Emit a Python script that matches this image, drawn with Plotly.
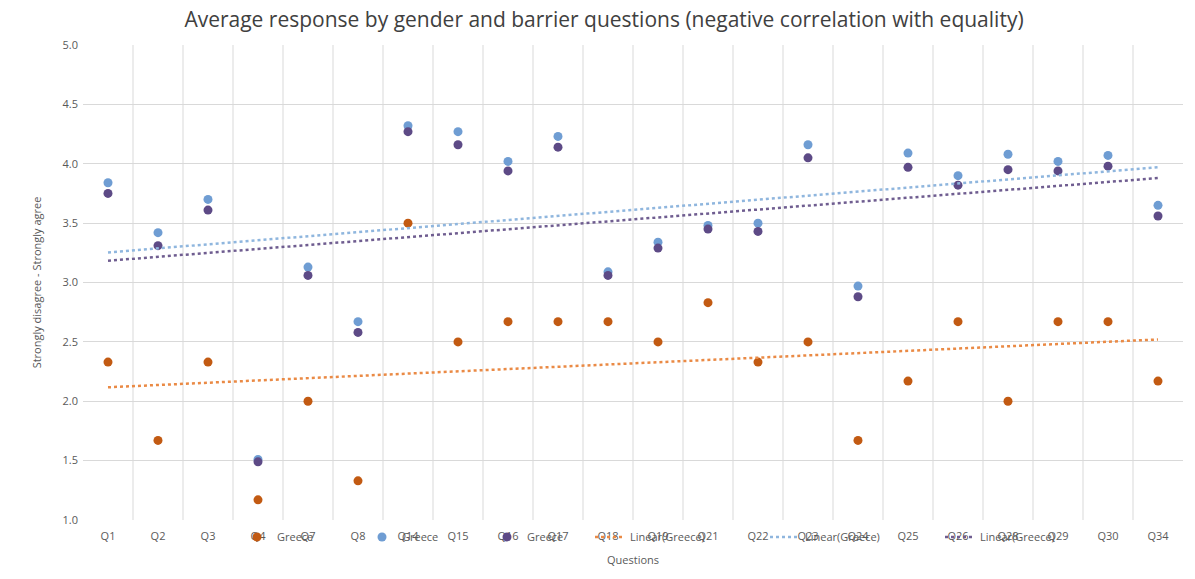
import numpy as np
import plotly.graph_objects as go

# Barrier questions on the category axis
questions = ["Q1", "Q2", "Q3", "Q4", "Q7", "Q8", "Q14", "Q15", "Q16", "Q17", "Q18",
             "Q19", "Q21", "Q22", "Q23", "Q24", "Q25", "Q26", "Q28", "Q29", "Q30", "Q34"]

# Average responses per group (1 = strongly disagree, 5 = strongly agree)
greece_orange = [2.33, 1.67, 2.33, 1.17, 2.00, 1.33, 3.50, 2.50, 2.67, 2.67, 2.67,
                 2.50, 2.83, 2.33, 2.50, 1.67, 2.17, 2.67, 2.00, 2.67, 2.67, 2.17]
greece_blue = [3.84, 3.42, 3.70, 1.51, 3.13, 2.67, 4.32, 4.27, 4.02, 4.23, 3.09,
               3.34, 3.48, 3.50, 4.16, 2.97, 4.09, 3.90, 4.08, 4.02, 4.07, 3.65]
greece_purple = [3.75, 3.31, 3.61, 1.49, 3.06, 2.58, 4.27, 4.16, 3.94, 4.14, 3.06,
                 3.29, 3.45, 3.43, 4.05, 2.88, 3.97, 3.82, 3.95, 3.94, 3.98, 3.56]

series_name = "Greece"
trend_name = "Linear(Greece)"

MARKER_COLORS = ["#c25a12", "#6f9dd3", "#5d4a86"]
TREND_COLORS = ["#ea8a45", "#8fb6de", "#6f5d90"]
GRID = "#d9d9d9"
TEXT = "#595959"
FONT = "Open Sans"

fig = go.Figure()

groups = [greece_orange, greece_blue, greece_purple]

# Scatter markers
for vals, col in zip(groups, MARKER_COLORS):
    fig.add_trace(go.Scatter(
        x=questions, y=vals, mode="markers", name=series_name,
        marker=dict(size=9, color=col), legend="legend",
    ))

# Least-squares linear trend for each group
idx = np.arange(1, len(questions) + 1)
for vals, col in zip(groups, TREND_COLORS):
    slope, intercept = np.polyfit(idx, np.array(vals), 1)
    fig.add_trace(go.Scatter(
        x=questions, y=slope * idx + intercept, mode="lines", name=trend_name,
        line=dict(color=col, width=2.5, dash="dot"), legend="legend2",
    ))

# Vertical grid lines between categories
shapes = [dict(type="line", xref="x", yref="y", x0=i + 0.5, x1=i + 0.5, y0=1, y1=5,
               line=dict(color=GRID, width=1), layer="below")
          for i in range(len(questions) - 1)]

fig.update_layout(
    width=1195, height=579,
    margin=dict(l=83, r=12, t=45, b=59, autoexpand=False),
    paper_bgcolor="white", plot_bgcolor="white",
    font=dict(family=FONT, color=TEXT, size=11),
    title=dict(
        text="Average response by gender and barrier questions (negative correlation with equality)",
        font=dict(family=FONT, size=21, color="#404040"),
        xref="container", x=604 / 1195, xanchor="center",
        yref="container", y=1 - 20 / 579, yanchor="middle",
    ),
    shapes=shapes,
    annotations=[dict(
        text="Questions", showarrow=False,
        xref="paper", x=0.5, xanchor="center",
        yref="paper", y=-39 / 475, yanchor="middle",
        font=dict(size=11, color=TEXT),
    )],
    xaxis=dict(
        type="category", range=[-0.5, len(questions) - 0.5],
        showgrid=False, zeroline=False, showline=False, ticks="",
        ticklabelstandoff=8,
        tickfont=dict(size=11, color=TEXT),
    ),
    yaxis=dict(
        range=[1, 5], dtick=0.5, tickformat=".1f",
        showgrid=True, gridcolor=GRID, gridwidth=1, zeroline=False,
        showline=False, ticks="", ticklabelstandoff=4,
        tickfont=dict(size=11, color=TEXT),
        title=dict(text="Strongly disagree - Strongly agree",
                   font=dict(size=11, color=TEXT), standoff=18),
    ),
    legend=dict(
        orientation="h", xref="container", yref="container",
        x=237 / 1195, xanchor="left", y=1 - 537 / 579, yanchor="middle",
        entrywidth=80, entrywidthmode="pixels",
        bgcolor="rgba(0,0,0,0)", font=dict(size=11, color=TEXT),
        itemclick=False,
    ),
    legend2=dict(
        orientation="h", xref="container", yref="container",
        x=590 / 1195, xanchor="left", y=1 - 537 / 579, yanchor="middle",
        entrywidth=130, entrywidthmode="pixels",
        bgcolor="rgba(0,0,0,0)", font=dict(size=11, color=TEXT),
        itemclick=False,
    ),
    showlegend=True,
)

fig.write_html("out.html")
